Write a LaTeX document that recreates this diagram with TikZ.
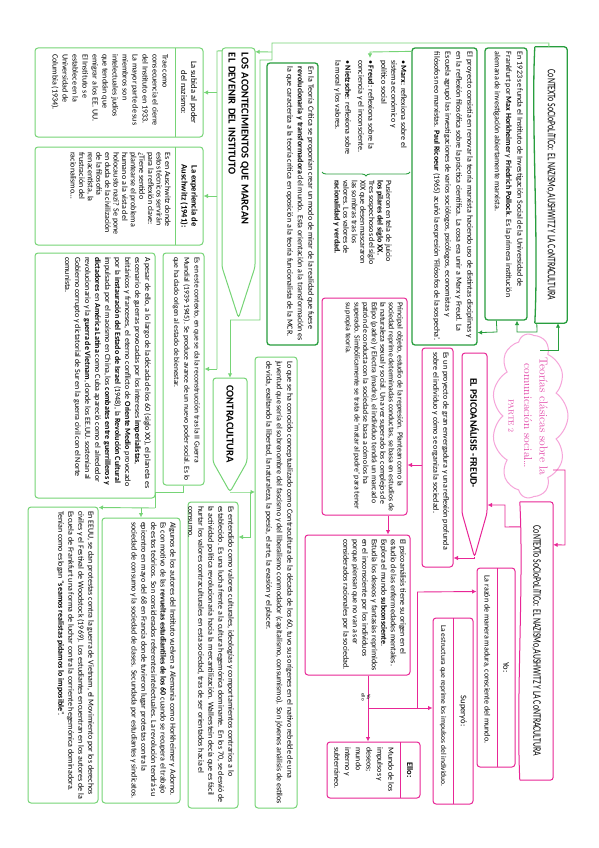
\documentclass[tikz,border=0pt]{standalone}
\usepackage{fontspec}
\newfontfamily\bodyf{Carlito}
\newfontfamily\handf[FakeStretch=0.68]{Carlito}
\usetikzlibrary{shapes.symbols,calc,arrows.meta,decorations.pathreplacing}
\definecolor{dg}{RGB}{40,158,62}
\definecolor{lg}{RGB}{118,212,118}
\definecolor{pk}{RGB}{232,38,150}
\definecolor{pinklight}{RGB}{246,165,218}
\definecolor{pkt}{RGB}{226,70,168}
\newcommand\tbx[3]{\parbox[c][#2pt][t]{#1pt}{\raggedright\hyphenpenalty=10000\exhyphenpenalty=10000 #3}}
\newcommand\fs[2]{\bodyf\fontsize{#1}{#2}\selectfont}
\tikzset{
  gb/.style={draw=dg, line width=1.3pt, rounded corners=3pt, inner sep=4pt},
  lb/.style={draw=lg, line width=1pt, rounded corners=3pt, inner sep=4pt},
  pb/.style={draw=pk, line width=1pt, rounded corners=3pt, inner sep=4pt},
  arr/.style={-{Latex[length=4.5pt,width=4.5pt]}},
  lgl/.style={draw=lg, line width=0.9pt},
  dgl/.style={draw=dg, line width=0.8pt},
  pkline/.style={draw=pk, line width=0.9pt},
}
\begin{document}
\begin{tikzpicture}[x=1pt,y=1pt]
\fill[white] (0,-848) rectangle (599,0);
\useasboundingbox (0,-848) rectangle (599,0);
\begin{scope}[rotate=-90, transform shape]
% ================= GREEN =================
\node[minimum width=276, minimum height=32, font=\handf\fontsize{11.5}{12}\selectfont] (gtitle) at (185,551)
 {CoNTEXTo SoCIoPoLíTICo: EL NAZISMo,AUSHWITZ Y LA CoNTRACULTURA};
\draw[dg, line width=1.3pt, rounded corners=3pt] (gtitle.south east) -- (gtitle.north east) -- (gtitle.north west) -- (gtitle.south west);
\draw[dg, line width=1.3pt] (gtitle.south west) .. controls (120,531) and (240,539) .. (gtitle.south east);
\node[gb, font=\fs{8}{11.3}] (g1) at (184,506) {\tbx{264}{34}{En 1923 se funda el Instituto de Investigación Social de la Universidad de Frankfurt por \textbf{Max Horkheimer} y \textbf{Friedrich Pollock}. Es la primera institución alemana de investigación abiertamente marxista.}};
\node[gb, font=\fs{8}{11}] (g2) at (196.5,444.5) {\tbx{289}{57}{El proyecto consistía en renovar la teoría marxista haciendo uso de distintas disciplinas y en la reflexión filosófica sobre la práctica científica. La cosa era unir a Marx y Freud. La Escuela agrupó las investigaciones de varios sociólogos, psicólogos, economistas y filósofos neo marxistas. \textbf{Paul Ricoeur} (1965) acuñó la expresión ‘Filósofos de la sospecha’.}};
\node[anchor=north west, inner sep=0, font=\fs{8}{10}, align=left] (gmarx) at (60,407)
 {• \textbf{Marx}: reflexiona sobre el\\ sistema económico y\\ político social\\[3pt] • \textbf{Freud}: reflexiona sobre la\\ conciencia y el inconsciente.\\[3pt] • \textbf{Nietzsche}: reflexiona sobre\\ la moral y los valores.};
\draw[dg, line width=0.9pt, decorate, decoration={brace, amplitude=4pt}] (172,410) -- (172,322);
\node[anchor=north west, inner sep=0, font=\fs{8}{8.6}, align=left] (gpus) at (180,392)
 {Pusieron en tela de juicio\\ \textbf{los pilares del siglo XX.}\\ Tres sospechosos del siglo\\ XIX que desenmascararon\\ las sombras tras los\\ valores. Los valores de\\ \textbf{racionalidad y verdad.}};
\node[gb, font=\fs{8}{10.5}] (gteo) at (204,292.5) {\tbx{274}{43}{En la Teoría Crítica se proponían crear un modo de mirar de la realidad que fuese \textbf{revolucionaria y transformadora} del mundo. Esta orientación a la transformación es la que caracteriza a la teoría crítica en oposición a la teoría funcionalista de la MCR.}};
% pentagon LOS ACONTECIMIENTOS
\draw[lb] (48,222) -- (267,222) -- (318,238.5) -- (267,255) -- (48,255) -- cycle;
\node[minimum width=219, minimum height=33, text width=209, align=left, inner sep=5pt, font=\bodyf\bfseries\fontsize{10.5}{13}\selectfont] (glos) at (157.5,238.5)
 {LOS ACONTECIMIENTOS QUE MARCAN\\EL DEVENIR DEL INSTITUTO};
\coordinate (glostip) at (318,238.5);
% subida
\node[lb, minimum width=89, minimum height=168] (gsub) at (92.5,119) {};
\draw[lgl] (48,175) -- (137,175);
\node[font=\fs{8.5}{10}, align=center] (gsubh) at (92.5,189) {La subida al poder\\del nazismo:};
\node[anchor=north west, inner sep=0, font=\fs{8}{10}, align=left] (gsubb) at (54,168)
 {Trae como\\consecuencia el cierre\\del Instituto en 1933.\\La mayor parte de sus\\miembros son\\intelectuales judíos\\que tendrán que\\emigrar a los EE. UU.\\El Instituto se\\establece en la\\Universidad de\\Columbia (1934).};
% auschwitz
\node[lb, minimum width=98, minimum height=168] (gaus) at (196,119) {};
\draw[lgl] (147,175) -- (245,175);
\node[font=\fs{8.5}{10}\bfseries, align=center] (gaush) at (196,189) {La experiencia de\\Auschwitz (1941):};
\node[anchor=north west, inner sep=0, font=\fs{8}{8.6}, align=left] (gausb) at (152,171)
 {Es en Auschwitz donde\\estos técnicos servirán\\para la reflexión clave:\\¿Tiene sentido\\plantearse el problema\\humano a la vista del\\holocausto nazi? Se pone\\en duda de la civilización\\de la filosofía\\renacentista, la\\frustración del\\racionalismo…};
% contexto
\node[lb, font=\fs{7.6}{10.3}] (gctx) at (369,183.5) {\tbx{224}{33}{Es en este contexto, en que se da la reconstrucción tras la II Guerra Mundial (1939-1945). Se produce avance de un nuevo poder social. Es lo que ha dado origen al estado de bienestar.}};
\node[lb, font=\fs{8}{10}] (gpes) at (375.5,95) {\tbx{237}{112}{A pesar de ello, a lo largo de la década de los 60 (siglo XX), el planeta es escenario de guerras provocadas por los intereses \textbf{imperialistas}, británicos y franceses, el eterno conflicto de \textbf{Oriente Medio} provocado por la \textbf{instauración del Estado de Israel} (1948), la \textbf{Revolución Cultural} impulsada por el maoísmo en China, los \textbf{combates entre guerrilleros y dictadores} en \textbf{América Latina} como Cuba apareció como el alrededor revolucionario y la \textbf{guerra de Vietnam}, donde los EE.UU. sostenían al Gobierno corrupto y dictatorial de Sur en la guerra civil con el Norte comunista.}};
% CONTRACULTURA pentagon
\draw[lb] (378,213) -- (462,213) -- (492,230) -- (462,247) -- (378,247) -- cycle;
\node[minimum width=92, minimum height=34, inner sep=0, font=\bodyf\bfseries\fontsize{10.5}{12}\selectfont] (gcon) at (424,230) {CONTRACULTURA};
\coordinate (gcontip) at (492,230);
\node[lb, font=\fs{8}{10.5}] (glo) at (582.5,276) {\tbx{443}{34}{Lo que se ha conocido conceptualizado como Contracultura de la década de los 60, tuvo sus orígenes en el nativo rebelde de una juventud que sería el sobrenombre del fascismo y del liberalismo conmodador (capitalismo, consumismo). Son jóvenes análisis de estilos de vida, exaltando la libertad, la naturaleza, la poesía, el arte, la evasión y el placer.}};
\node[lb, font=\fs{8}{10}] (gent) at (655,213) {\tbx{298}{42}{Es entendido como valores culturales, ideologías y comportamientos contrarios a lo establecido. Es una lucha frente a la cultura hegemónica dominante. En los 70, se desvió de la actividad política revolucionaria hacia la mercantilización. Wallerstein decía que es fácil hurtar los valores contraculturales en esta sociedad, tras de ser orientados hacia el consumo.}};
\node[lb, font=\fs{8}{9.7}] (galg) at (660.5,141) {\tbx{277}{70}{Algunos de los autores del Instituto vuelven a Alemania como Horkheimer y Adorno. Es con motivo de las \textbf{revueltas estudiantiles de los 60} cuando se recupera el trabajo de estos teóricos. Son considerados referentes intelectuales. La revolución tendrá su epicentro en mayo del 68 en Francia donde tuvieron lugar protestas contra la sociedad de consumo y la sociedad de clases. Secundada por estudiantes y sindicatos.}};
\node[lb, font=\fs{8}{10}] (geeuu) at (655,63) {\tbx{288}{62}{En EEUU, se dan protestas contra la guerra de Vietnam, el Movimiento por los derechos civiles y el Festival de Woodstock (1969). Los estudiantes encuentran en los autores de la Escuela de Frankfurt una forma de luchar contra la corriente hegemónica dominadora. Tenían como eslogan “\textbf{seamos realistas pidamos lo imposible}”.}};
% ================= PINK =================
\node[cloud, cloud puffs=11, cloud puff arc=110, aspect=2.2, draw=pinklight, line width=1pt, minimum width=164, minimum height=76, inner sep=0] (cloud) at (416,530) {};
\node[text=pkt, align=center, font=\rmfamily\fontsize{11.5}{15.5}\selectfont] (cloudt) at (416,528) {Teorías clásicas sobre la\\comunicación social…\\{\fontsize{7.5}{9}\selectfont PARTE 2}};
\node[minimum width=278, minimum height=33, font=\handf\fontsize{11.5}{12}\selectfont] (ptitle) at (641,536.5)
 {CoNTEXTo SoCIoPoLíTICo: EL NAZISMo,AUSHWITZ Y LA CoNTRACULTURA};
\draw[pk, line width=1pt, rounded corners=3pt] (ptitle.south east) -- (ptitle.north east) -- (ptitle.north west) -- (ptitle.south west);
\draw[pk, line width=1pt] (ptitle.south west) .. controls (580,524) and (700,516) .. (ptitle.south east);
\draw[pb] (353,462) -- (513,462) -- (557,474.5) -- (513,487) -- (353,487) -- cycle;
\node[minimum width=160, minimum height=25, inner sep=0, font=\bodyf\bfseries\fontsize{10}{12}\selectfont] (ppsi) at (433,474.5) {EL PSICOANÁLISIS -FREUD-};
\coordinate (ppsitip) at (557,474.5);
\node[pb, font=\fs{8}{10}] (pproy) at (457.5,437.5) {\tbx{211}{23}{Es un proyecto de gran envergadura y una reflexión profunda sobre el individuo y cómo se organiza la sociedad.}};
\node[pb, font=\fs{7.8}{8.6}] (pprin) at (406.5,364.5) {\tbx{209}{77}{Principal objeto, estudio de la represión. Plantean como la sociedad reprime determinadas conductas, se basa en estudios de la naturaleza sexual y social. Una vez superado los complejos de Edipo (padre) y Electra (madre), el individuo tendrá un marcado patrón de conducta con la sociedad se basa a cómo los ha superado. Simbólicamente se trata de ‘matar al padre’ para tener su propia teoría.}};
\node[pb, font=\fs{8}{9.5}] (pori) at (605,357.5) {\tbx{132}{97}{El psicoanálisis tiene su origen en el estudio de las enfermedades mentales. Explora el mundo \textbf{subconsciente}. Estudia los deseos y fantasías reprimidos en el inconsciente por los individuos porque piensan que no van a ser considerados racionales por la sociedad.}};
% Yo
\node[pb, minimum width=199, minimum height=38] (pyo) at (667.5,496) {};
\draw[pkline] (568,497) -- (767,497);
\node[font=\fs{8.5}{10}] (pyoh) at (667.5,506) {Yo:};
\node[font=\fs{8}{10}, anchor=west] (pyob) at (572,487) {La razón de manera madura, consciente del mundo.};
% Superyo
\node[pb, minimum width=186, minimum height=40] (psup) at (711,453) {};
\draw[pkline] (618,453) -- (804,453);
\node[font=\fs{8.5}{10}] (psuph) at (711,463) {Superyó:};
\node[font=\fs{7.5}{10}, anchor=west] (psupb) at (622,443) {La estructura que reprime los impulsos del individuo.};
% Ello
\node[pb, minimum width=56, minimum height=93] (pello) at (770,373.5) {};
\draw[pkline] (742,400) -- (798,400);
\node[font=\fs{8.5}{10}\bfseries] (pelloh) at (770,410) {Ello:};
\node[anchor=north west, inner sep=0, font=\fs{8}{10.8}, align=left] (pellob) at (747,394)
 {Mundo de los\\impulsos y\\deseos;\\mundo\\interno y\\subterráneo.};
% ================= CONNECTORS =================
\draw[lgl] ($(gtitle.south west)+(0,14)$) -- (43,549) -- (43,272) -- (60,272) -- (60,260) -- (320,260) -- (320,230);
\draw[lgl,arr] (52,272) -- ($(glos.north west)+(4,0)$);
\draw[lgl,arr] (320,230) -- (gcon.west);
\draw[lgl] ($(glos.south west)+(3,0)$) -- (51,217) -- (369,217);
\draw[lgl,arr] (92.5,217) -- (gsub.north);
\draw[lgl,arr] (196,217) -- (gaus.north);
\draw[lgl,arr] (369,217) -- (gctx.north);
\draw[lgl] (gctx.east) -- (492,183.5) -- (492,155) -- (508,155);
\draw[lgl,arr] (508,155) -- ($(geeuu.north west)+(1,0)$);
\draw[lgl,arr] (508,141) -- (galg.west);
\draw[lgl,arr] (gcontip) -- (492,250) -- (492,255);
\draw[lgl,arr] (492,250) -- (537,250) -- (537,238.5);
\draw[dgl,arr] (350,540) -- (350,558) -- ($(gtitle.east)+(0,7)$);
\draw[dgl,arr] ($(gtitle.south east)+(0,2)$) -- (332,537) -- (332,517) -- ($(g1.east)+(0,11)$);
\draw[dgl,arr] ($(g1.south east)+(0,12)$) -- (332,497) -- ($(g2.north east)+(-13,0)$);
\draw[lgl,arr] ($(g2.south west)+(4,0)$) -- (52,370) -- (58,370);
\draw[pkline,arr] (470,553) -- (470,565) -- (545,565) -- ($(ptitle.north west)+(43,0)$);
\draw[pkline,arr] ($(ptitle.south west)+(25,0)$) -- (527,505) -- (505,505) -- (505,487.5);
\draw[pkline,arr] (ppsitip) -- (558,474.5) -- (558,453.5);
\draw[pkline,arr] ($(pproy.south)+(7.5,0)$) -- ($(pprin.north)+(58.5,0)$);
\draw[pkline,arr] ($(pprin.east)+(0,23.5)$) -- ($(pori.west)+(0,30.5)$);
\draw[pkline,arr] ($(pori.east)+(0,10.5)$) -- ($(pello.west)+(0,-5.5)$);
\node[font=\fs{5}{5.5}, align=center, inner sep=0] (lbl) at (697,366) {Yo,\\ello};
\draw[pkline] (708,368) -- (708,417) -- (592,417);
\draw[pkline,arr] (592,417) -- ($(pyo.south west)+(24,0)$);
\draw[pkline,arr] (708,417) -- ($(psup.south)+(-3,0)$);
\end{scope}
\end{tikzpicture}
\end{document}
